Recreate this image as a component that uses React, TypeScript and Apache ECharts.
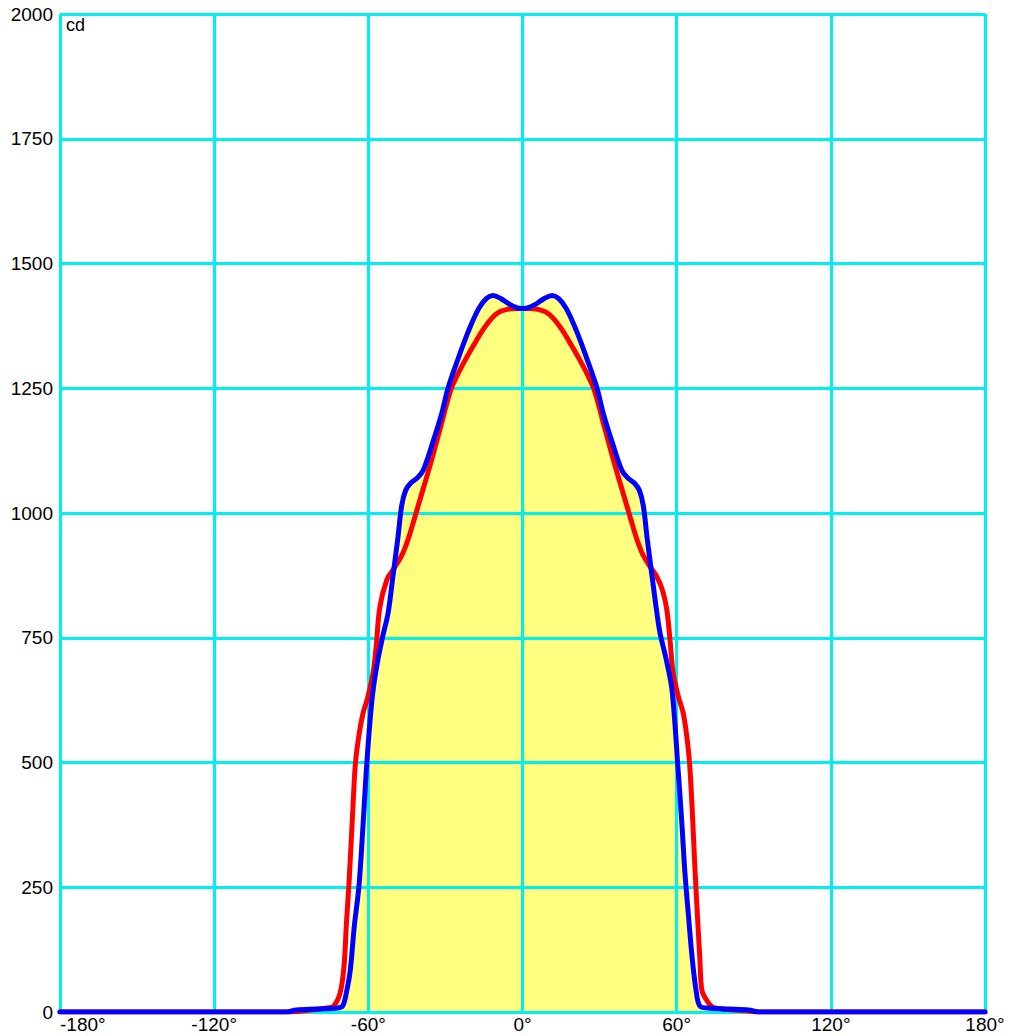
import React, { useEffect, useRef } from "react";
import * as echarts from "echarts";

const xTicks = [-180, -120, -60, 0, 60, 120, 180];
const yTicks = [0, 250, 500, 750, 1000, 1250, 1500, 1750, 2000];
const unitLabel = "cd";

const redAngles = [
  -180, -92, -84, -76, -73.5, -71, -69.5, -68.5, -67.5, -66, -65, -63.5, -62, -60.2, -58.2, -57, -55.5, -52.8,
  -50.4, -47, -44.6, -42, -40, -36, -32, -28, -25, -21.6, -18, -15.4, -12, -9, -6, -3, 0,
  3, 6, 9, 12, 15.4, 18, 21.6, 25, 28, 32, 36, 40, 42, 44.6, 47, 50, 52.3, 54.5, 56.2, 57.5, 58.6,
  60.5, 62.5, 64, 65, 66, 67, 67.9, 69, 69.8, 71.5, 74, 80, 88, 92, 180,
];
const redValues = [
  0, 0, 3, 8, 12, 38, 90, 180, 260, 410, 500, 560, 600, 631, 679, 730, 812, 866,
  886, 915, 946, 990, 1025, 1095, 1170, 1245, 1280, 1313, 1345, 1367, 1390, 1403, 1408, 1410, 1410,
  1410, 1408, 1403, 1390, 1367, 1345, 1313, 1280, 1245, 1170, 1095, 1025, 990, 946, 915, 890, 872, 845, 805, 740, 680,
  635, 600, 550, 500, 411, 300, 210, 110, 44, 25, 10, 5, 2, 0, 0,
];

const blueAngles = [
  -180, -92, -88, -80, -72, -70, -68.5, -67, -65.5, -63.6, -62, -60.5, -58.5, -56.5, -54.3, -52.3, -50.5,
  -48.5, -47, -45.5, -43.5, -41, -38.7, -35, -31.4, -29, -25, -21, -17, -14, -11.5, -8.5, -5, -2, 0,
  2, 5, 8.5, 11.5, 14, 17, 21, 25, 29, 31.4, 35, 38.7, 41, 43.5, 45.5, 47, 48.5, 50.5, 52.3, 53.5,
  56, 58.2, 60.5, 62, 63.2, 64.8, 66, 67.5, 69, 72, 80, 88, 92, 180,
];
const blueValues = [
  0, 0, 4, 6, 8, 12, 40, 85, 170, 255, 380, 505, 630, 700, 755, 800, 870,
  950, 1015, 1045, 1060, 1070, 1085, 1140, 1200, 1250, 1310, 1365, 1410, 1430, 1436, 1430, 1418, 1411, 1410,
  1411, 1418, 1430, 1436, 1430, 1410, 1365, 1310, 1250, 1200, 1140, 1085, 1070, 1060, 1045, 1015, 950, 870, 800, 760,
  705, 645, 490, 380, 280, 180, 110, 45, 12, 8, 6, 4, 0, 0,
];

const FONT = "Liberation Sans, Arial, Helvetica, sans-serif";
const GRID_COLOR = "#00f0f0";

export default function App() {
  const ref = useRef<HTMLDivElement>(null);

  useEffect(() => {
    if (!ref.current) return;
    const chart = echarts.init(ref.current, undefined, { renderer: "svg" });
    const red = redAngles.map((a, i) => [a, redValues[i]]);
    const blue = blueAngles.map((a, i) => [a, blueValues[i]]);

    chart.setOption({
      animation: false,
      backgroundColor: "#ffffff",
      grid: { left: 60, right: 26, top: 14, bottom: 24, containLabel: false },
      xAxis: {
        type: "value",
        min: xTicks[0],
        max: xTicks[xTicks.length - 1],
        interval: 60,
        z: 3,
        axisLine: { show: true, lineStyle: { color: GRID_COLOR, width: 3 } },
        axisTick: { show: false },
        splitLine: { show: true, lineStyle: { color: GRID_COLOR, width: 3 } },
        axisLabel: {
          color: "#000",
          fontFamily: FONT,
          fontSize: 19,
          margin: 3,
          alignMinLabel: "left",
          formatter: (v: number) => `${v}°`,
        },
      },
      yAxis: {
        type: "value",
        min: yTicks[0],
        max: yTicks[yTicks.length - 1],
        interval: 250,
        z: 3,
        axisLine: { show: true, lineStyle: { color: GRID_COLOR, width: 3 } },
        axisTick: { show: false },
        splitLine: { show: true, lineStyle: { color: GRID_COLOR, width: 3 } },
        axisLabel: {
          color: "#000",
          fontFamily: FONT,
          fontSize: 19,
          margin: 7,
          formatter: (v: number) => String(v),
        },
      },
      graphic: [
        {
          type: "text",
          left: 66,
          top: 16,
          z: 10,
          style: { text: unitLabel, fill: "#000", font: `18px ${FONT}` },
        },
      ],
      series: [
        {
          type: "line",
          data: blue,
          smooth: 0.35,
          showSymbol: false,
          symbol: "none",
          z: 1,
          lineStyle: { width: 0, opacity: 0 },
          areaStyle: { color: "#ffff80", opacity: 1 },
          silent: true,
        },
        {
          type: "line",
          data: red,
          smooth: 0.35,
          showSymbol: false,
          symbol: "none",
          z: 5,
          lineStyle: { color: "#ff0000", width: 5, join: "round", cap: "round" },
        },
        {
          type: "line",
          data: blue,
          smooth: 0.35,
          showSymbol: false,
          symbol: "none",
          z: 6,
          lineStyle: { color: "#0000ff", width: 5, join: "round", cap: "round" },
        },
      ],
    });
    return () => chart.dispose();
  }, []);

  return (
    <div
      ref={ref}
      style={{ position: "fixed", left: 0, top: 0, width: 1011, height: 1036 }}
    />
  );
}
